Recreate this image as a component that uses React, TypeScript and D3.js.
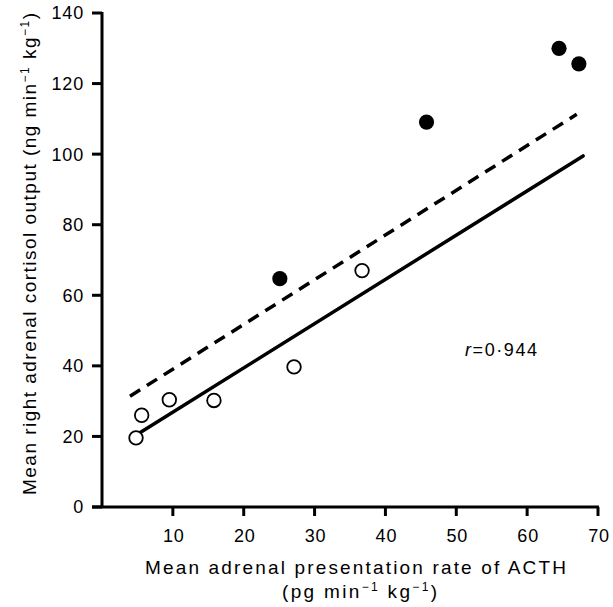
import React from 'react';
import * as d3 from 'd3';

const owidth = 613;
const oheight = 607;

// axis pixel frame
const x0 = 102;
const x1 = 598;
const y0 = 507;
const y1 = 13;

const xTicks = [10, 20, 30, 40, 50, 60, 70];
const yTicks = [0, 20, 40, 60, 80, 100, 120, 140];

// open circles
const openX = [4.8, 5.6, 9.5, 15.8, 27.1, 36.7];
const openY = [19.6, 26.0, 30.4, 30.2, 39.7, 67.0];

// filled circles
const filledX = [25.1, 45.8, 64.5, 67.3];
const filledY = [64.7, 109.1, 130.0, 125.6];

// regression lines (end points)
const solidLine = [[5.4, 21.1], [67.9, 99.5]];
const dashedLine = [[3.95, 31.4], [67.0, 111.3]];

const xScale = d3.scaleLinear().domain([0, 70]).range([x0, x1]);
const yScale = d3.scaleLinear().domain([0, 140]).range([y0, y1]);

const font = '"Liberation Sans", Arial, sans-serif';

function Sup({ children }) {
  return <tspan fontSize="12" dy="-7">{children}</tspan>;
}

export default function App() {
  const line = d3.line().x(d => xScale(d[0])).y(d => yScale(d[1]));

  return (
    <div style={{ position: 'absolute', left: 0, top: 0 }}>
      <svg width={owidth} height={oheight} viewBox={`0 0 ${owidth} ${oheight}`}
        style={{ display: 'block', background: '#fff' }} fontFamily={font}>
        {/* axes */}
        <g stroke="#000" strokeWidth={3} fill="none">
          <line x1={xScale(0)} y1={yScale(0)} x2={xScale(0)} y2={yScale(140) - 1} />
          <line x1={xScale(0) - 10} y1={yScale(0)} x2={xScale(70) + 1} y2={yScale(0)} />
          {yTicks.map(t => (
            <line key={t} x1={xScale(0) - 10} x2={xScale(0)} y1={yScale(t)} y2={yScale(t)} />
          ))}
          {xTicks.map(t => (
            <line key={t} x1={xScale(t)} x2={xScale(t)} y1={yScale(0)} y2={yScale(0) + 9} />
          ))}
        </g>
        <g fontSize="18" fill="#000" letterSpacing="0.8">
          {yTicks.map(t => (
            <text key={t} x={xScale(0) - 18} y={yScale(t)} dy="0.36em" textAnchor="end">{t}</text>
          ))}
          {xTicks.map(t => (
            <text key={t} x={xScale(t) + 1} y={yScale(0) + 35} textAnchor="middle">{t}</text>
          ))}
        </g>

        {/* axis titles */}
        <text x={145} y={574} fontSize="19" textLength={421} lengthAdjust="spacing">
          Mean adrenal presentation rate of ACTH
        </text>
        <text x={282} y={598} fontSize="19" textLength={155} lengthAdjust="spacing">
          (pg min<Sup>−1</Sup><tspan dy="7"> kg</tspan><Sup>−1</Sup><tspan dy="7">)</tspan>
        </text>
        <text transform="translate(36,495) rotate(-90)" fontSize="19" textLength={482} lengthAdjust="spacing">
          Mean right adrenal cortisol output (ng min<Sup>−1</Sup><tspan dy="7"> kg</tspan><Sup>−1</Sup><tspan dy="7">)</tspan>
        </text>

        {/* regression lines */}
        <path d={line(solidLine)} stroke="#000" strokeWidth={3.5} fill="none" strokeLinecap="round" />
        <path d={line(dashedLine)} stroke="#000" strokeWidth={3.5} fill="none" strokeDasharray="12 8" />

        {/* points */}
        {openX.map((x, i) => (
          <circle key={'o' + i} cx={xScale(x)} cy={yScale(openY[i])} r={6.8}
            fill="#fff" stroke="#000" strokeWidth={1.8} />
        ))}
        {filledX.map((x, i) => (
          <circle key={'f' + i} cx={xScale(x)} cy={yScale(filledY[i])} r={7.6} fill="#000" />
        ))}

        <text x={465} y={356} fontSize="18" fill="#000" textLength={72} lengthAdjust="spacing">
          <tspan fontStyle="italic">r</tspan>=0·944
        </text>
      </svg>
    </div>
  );
}
